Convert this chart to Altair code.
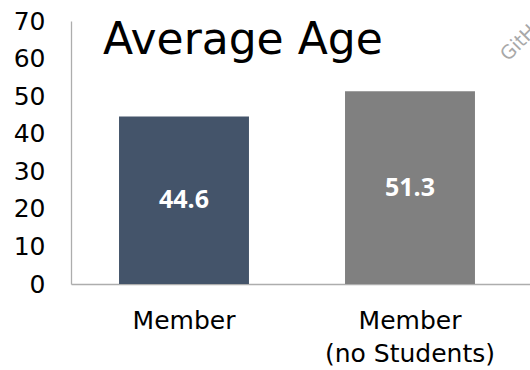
import altair as alt
import pandas as pd

categories = ["Member", "Member|(no Students)"]
values = [44.6, 51.3]
colors = ["#44546A", "#808080"]
y_ticks = [0, 10, 20, 30, 40, 50, 60, 70]
title_text = "Average Age"
watermark = "GitHub"

df = pd.DataFrame({"cat": categories, "val": values, "color": colors})
df["half"] = df["val"] / 2
df["lbl"] = df["val"].map(lambda v: f"{v:.1f}")

x_enc = alt.X(
    "cat:N",
    sort=categories,
    scale=alt.Scale(paddingInner=0.425, paddingOuter=0.228, align=0.466),
    axis=alt.Axis(
        title=None,
        labelAngle=0,
        labelExpr="split(datum.label, '|')",
        labelFont="DejaVu Sans",
        labelFontSize=25,
        labelColor="#000000",
        labelLineHeight=33,
        labelPadding=24,
        ticks=False,
        domainColor="#ADADAD",
        domainWidth=1.3,
        grid=False,
    ),
)

y_axis = alt.Axis(
    title=None,
    values=y_ticks,
    labelOverlap=False,
    labelFont="DejaVu Sans",
    labelFontSize=25,
    labelColor="#000000",
    labelPadding=26,
    ticks=False,
    grid=False,
    domainColor="#ADADAD",
    domainWidth=1.3,
)
y_scale = alt.Scale(domain=[0, 70], nice=False)

base = alt.Chart(df).encode(x=x_enc)

bars = base.mark_bar().encode(
    y=alt.Y("val:Q", scale=y_scale, axis=y_axis),
    color=alt.Color("color:N", scale=None, legend=None),
)

labels = base.mark_text(
    font="Open Sans", fontWeight="bold", fontSize=25, color="#FFFFFF",
    baseline="middle", align="center",
).encode(
    y=alt.Y("half:Q", scale=y_scale, axis=y_axis),
    text="lbl:N",
)

title = alt.Chart(pd.DataFrame({"t": [title_text]})).mark_text(
    font="DejaVu Sans", fontSize=44, fontWeight="normal", color="#000000",
    align="left", baseline="alphabetic",
).encode(
    x=alt.value(32),
    y=alt.value(33),
    text="t:N",
)

wm = alt.Chart(pd.DataFrame({"t": [watermark]})).mark_text(
    font="DejaVu Sans", fontSize=19, color="#A8A8A8", angle=315,
    align="left", baseline="alphabetic",
).encode(
    x=alt.value(437),
    y=alt.value(41),
    text="t:N",
)

chart = alt.layer(bars, labels, title, wm).properties(
    width=459,
    height=263,
    autosize=alt.AutoSizeParams(type="none"),
    padding={"left": 71, "top": 21, "right": 0, "bottom": 86},
).configure_view(stroke="transparent")

chart.save("out.html", embed_options={"renderer": "svg", "actions": False})
